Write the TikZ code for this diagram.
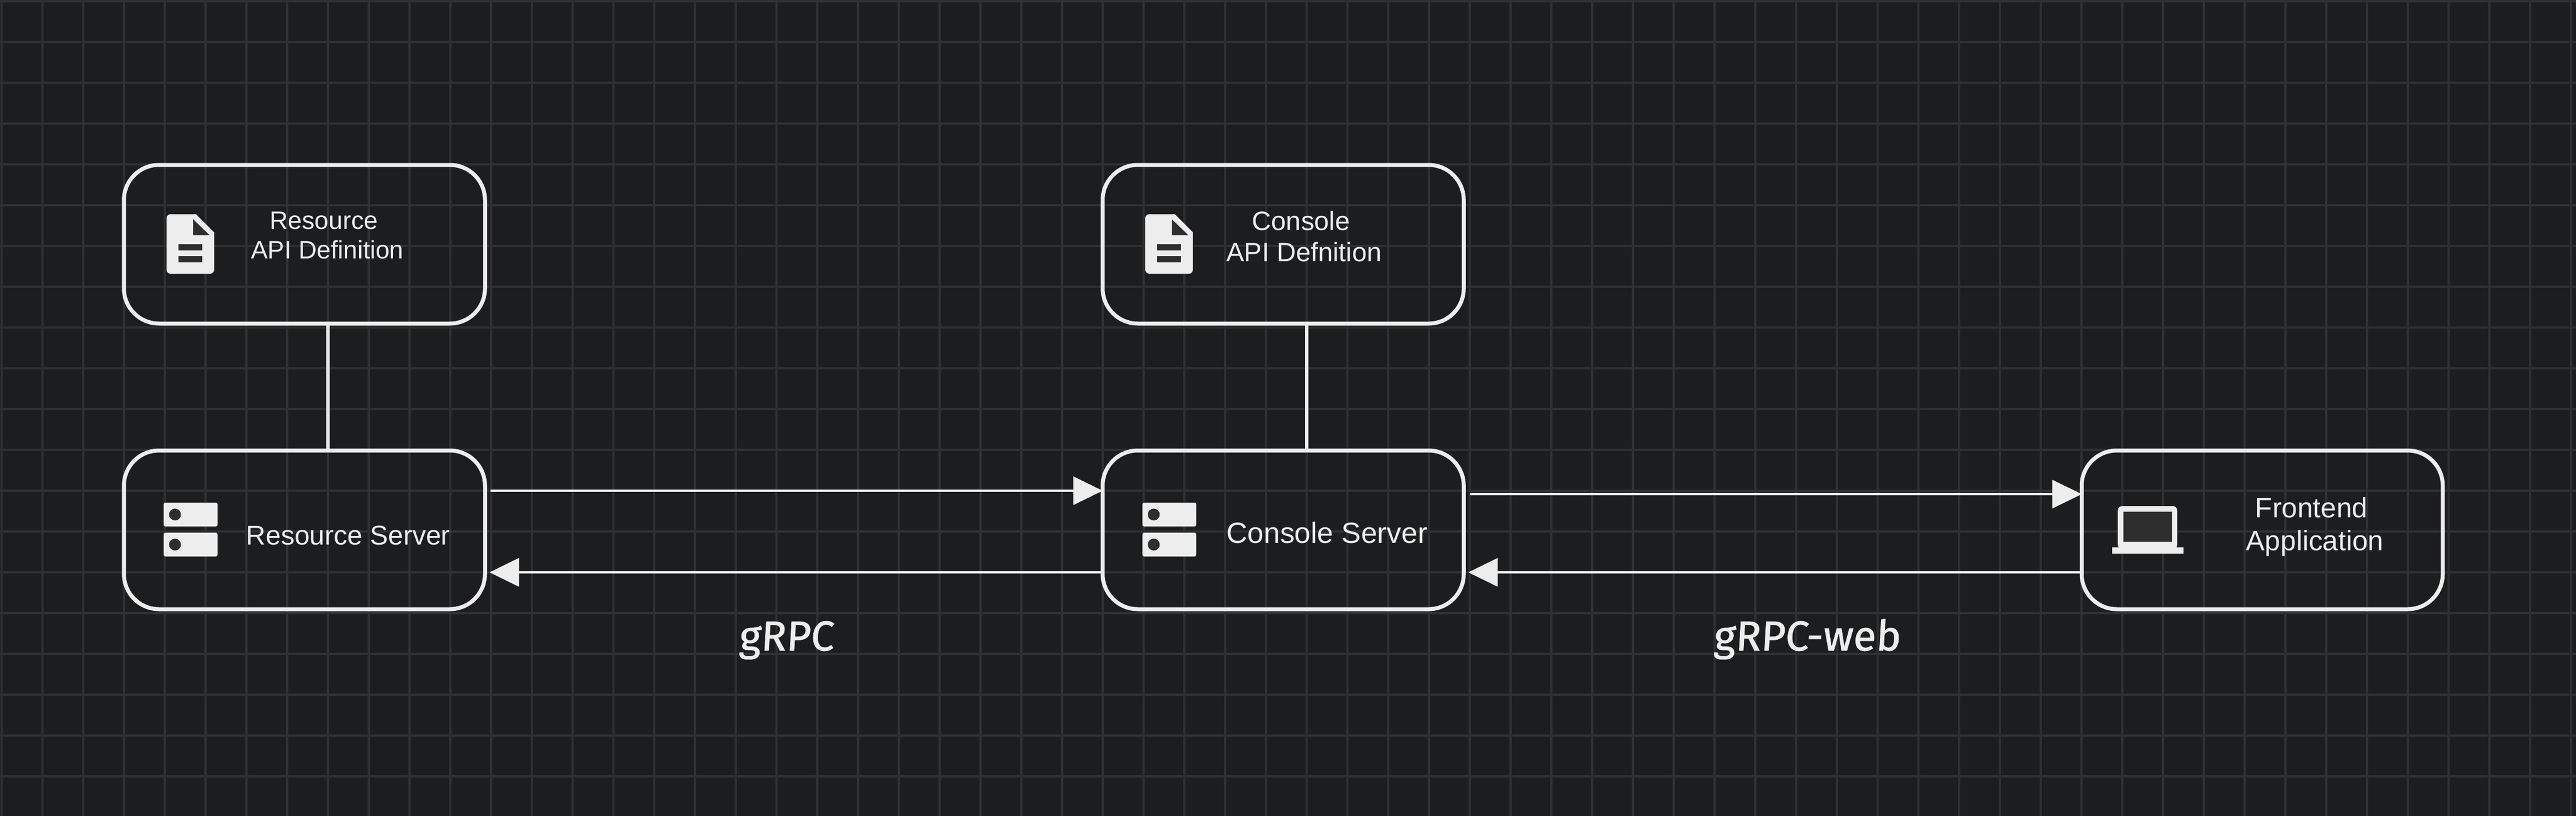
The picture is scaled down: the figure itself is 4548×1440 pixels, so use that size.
\documentclass[tikz,border=0pt]{standalone}
\usepackage{fontspec}
\setmainfont{Liberation Sans}
\newfontfamily\handfont[FakeBold=1.2,FakeSlant=0.06]{Fira Sans}
\usetikzlibrary{arrows.meta}
\definecolor{bgc}{HTML}{1C1D1F}
\definecolor{gridc}{HTML}{2F3032}
\definecolor{fgc}{HTML}{EDEDED}
\definecolor{holec}{HTML}{2E2E2E}
\tikzset{
  x=1pt,y=-1pt,
  card/.style={draw=fgc,line width=7pt,rounded corners=62pt,minimum width=637.5pt,minimum height=280pt,inner sep=0pt,outer sep=0pt},
  lbl/.style={text=fgc,inner sep=0pt,align=center,anchor=base},
  hand/.style={text=fgc,inner sep=0pt,anchor=base,font=\handfont\fontsize{74}{80}\selectfont},
  link/.style={draw=fgc,line width=6pt},
  flow/.style={draw=fgc,line width=3.5pt,-{Triangle[length=52pt,width=50pt]}},
}
\newcommand{\fileicon}[2]{%
  \begin{scope}[shift={(#1,#2)}]
    \fill[fgc] [rounded corners=7pt] (0,50) -- (0,0) [sharp corners] -- (52,0) -- (84,32) [rounded corners=7pt] -- (84,105) -- (0,105) -- cycle;
    \fill[holec] (47,9) -- (47,37) -- (76,37) -- cycle;
    \fill[holec] (21,53) rectangle (63,64);
    \fill[holec] (21,74) rectangle (63,85);
  \end{scope}}
\newcommand{\servericon}[2]{%
  \begin{scope}[shift={(#1,#2)}]
    \fill[fgc,rounded corners=3pt] (0,0) rectangle (95,42);
    \fill[fgc,rounded corners=3pt] (0,53) rectangle (95,95);
    \fill[holec] (20,21) ellipse [x radius=10.5pt,y radius=10.5pt];
    \fill[holec] (20,74) ellipse [x radius=10.5pt,y radius=10.5pt];
  \end{scope}}
\begin{document}
\begin{tikzpicture}
\useasboundingbox (0,0) rectangle (4548,1440);
\fill[bgc] (0,0) rectangle (4548,1440);
\foreach \i in {0,...,63} {\draw[gridc,line width=3.5pt] ({3+72*\i},0) -- ({3+72*\i},1440);}
\foreach \j in {0,...,20} {\draw[gridc,line width=3.5pt] (0,{2+72*\j}) -- (4548,{2+72*\j});}

\node[card] (resapi) at (537.5,431) {};
\node[card] (res) at (537.5,935) {};
\node[card] (conapi) at (2265.5,431) {};
\node[card] (con) at (2265.5,935) {};
\node[card] (front) at (3994,935) {};

\fileicon{294}{378}
\fileicon{2022}{378}
\servericon{289}{887}
\servericon{2017}{887}
\begin{scope}[shift={(3729,893)}]
  \fill[fgc,rounded corners=8pt] (10,0) rectangle (115,76);
  \fill[holec] (20,10) rectangle (106,63);
  \fill[fgc] (0,73) rectangle (126,84);
\end{scope}

\node[lbl,font=\fontsize{44.5}{52}\selectfont] (t1) at (572,404) {Resource};
\node[lbl,font=\fontsize{44.5}{52}\selectfont] (t2) at (578,456) {API Definition};
\node[lbl,font=\fontsize{48}{52}\selectfont] (t3) at (615,961) {Resource Server};
\node[lbl,font=\fontsize{47}{52}\selectfont] (t4) at (2297,406) {Console};
\node[lbl,font=\fontsize{47}{52}\selectfont] (t5) at (2302.5,461) {API Defnition};
\node[lbl,font=\fontsize{51.5}{56}\selectfont] (t6) at (2343,958) {Console Server};
\node[lbl,font=\fontsize{49.5}{52}\selectfont] (t7) at (4081,913) {Frontend};
\node[lbl,font=\fontsize{49.5}{52}\selectfont] (t8) at (4087,971) {Application};
\node[hand] (g1) at (1388,1148) {gRPC};
\node[hand] (g2) at (3190,1148) {gRPC-web};

\draw[link] ([xshift=41pt]resapi.south) -- ([xshift=41pt]res.north);
\draw[link] ([xshift=41.5pt]conapi.south) -- ([xshift=41.5pt]con.north);
\draw[flow] ([xshift=10pt,yshift=69pt]res.east) -- ([yshift=69pt]con.west);
\draw[flow] ([xshift=11pt,yshift=63pt]con.east) -- ([yshift=63pt]front.west);
\draw[flow] ([yshift=-75pt]con.west) -- ([xshift=8pt,yshift=-75pt]res.east);
\draw[flow] ([yshift=-75pt]front.west) -- ([xshift=8pt,yshift=-75pt]con.east);
\end{tikzpicture}
\end{document}
